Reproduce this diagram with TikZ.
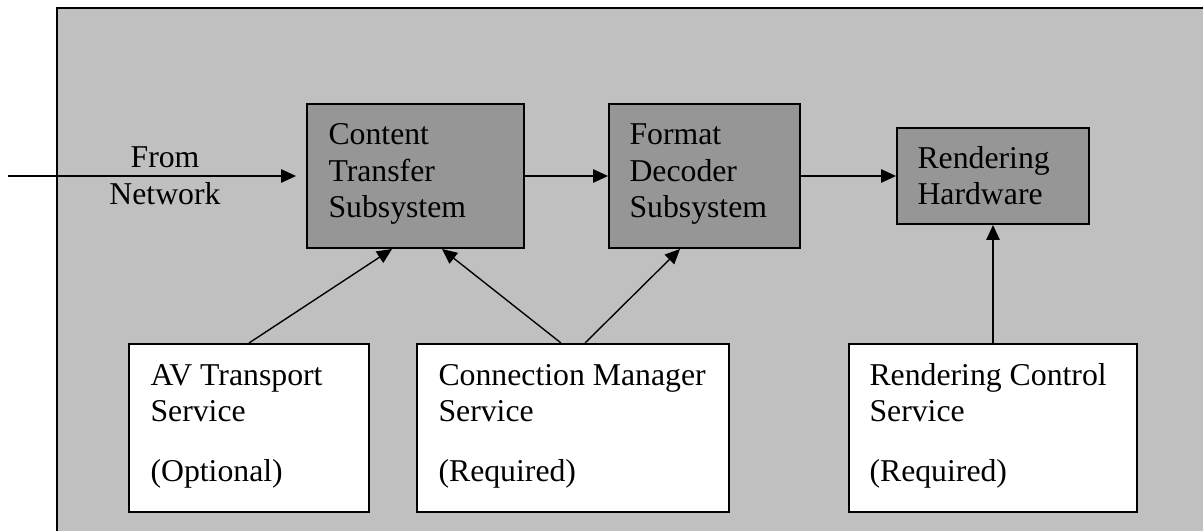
\documentclass[tikz,border=0pt]{standalone}
\usepackage{fontspec}
\setmainfont{Liberation Serif}
\usetikzlibrary{arrows.meta,calc}
\definecolor{bgcol}{RGB}{192,192,192}
\definecolor{darkbox}{RGB}{150,150,150}
\tikzset{
  dbox/.style={draw=black, line width=0.8pt, fill=darkbox, inner sep=0pt},
  wbox/.style={draw=black, line width=0.8pt, fill=white, inner sep=0pt},
  lbl/.style={font=\fontsize{12.7}{14.6}\selectfont, inner sep=0pt, align=left, anchor=base west},
  lblc/.style={font=\fontsize{12.7}{14.6}\selectfont, inner sep=0pt, anchor=base},
  conn/.style={line width=0.55pt, -{Triangle[length=6pt,width=5.4pt]}}
}
\begin{document}
\begin{tikzpicture}[x=0.4pt,y=-0.4pt]
\clip (0,0) rectangle (1203,531);
\useasboundingbox (0,0) rectangle (1203,531);
\draw[line width=0.8pt, fill=bgcol] (57,8) rectangle (1260,580);

% upper boxes
\node[dbox, minimum width=86.8pt, minimum height=57.6pt] (ct) at (415.5,176) {};
\node[dbox, minimum width=76.4pt, minimum height=57.6pt] (fd) at (704.5,176) {};
\node[dbox, minimum width=76.8pt, minimum height=38.4pt] (rh) at (993,176) {};

% lower boxes
\node[wbox, minimum width=96pt, minimum height=67.2pt] (av) at (249,428) {};
\node[wbox, minimum width=124.8pt, minimum height=67.2pt] (cm) at (573,428) {};
\node[wbox, minimum width=115.2pt, minimum height=67.2pt] (rc) at (993,428) {};

% texts (anchored at the baseline of the last line)
\node[lblc] (from) at (165,168) {From};
\node[lblc] (net) at (165,205) {Network};
\node[lbl] (ctt) at (328,218) {Content\\Transfer\\Subsystem};
\node[lbl] (fdt) at (629,218) {Format\\Decoder\\Subsystem};
\node[lbl] (rht) at (917,205) {Rendering\\Hardware};
\node[lbl] (avt) at (150,481) {AV Transport\\Service\\[9.2pt](Optional)};
\node[lbl] (cmt) at (438,481) {Connection Manager\\Service\\[9.2pt](Required)};
\node[lbl] (rct) at (869,481) {Rendering Control\\Service\\[9.2pt](Required)};

% connectors
\coordinate (netin) at (8,176);
\draw[conn, shorten >=4pt] (netin) -- (ct.west);
\draw[conn] (ct.east) -- (fd.west);
\draw[conn] (fd.east) -- (rh.west);
\draw[conn] (av.north) -- ($(ct.south)+(-23.5,0)$);
\draw[conn] ($(cm.north)+(-12,0)$) -- ($(ct.south)+(26.5,0)$);
\draw[conn] ($(cm.north)+(12,0)$) -- ($(fd.south)+(-24.5,0)$);
\draw[conn] (rc.north) -- (rh.south);
\end{tikzpicture}
\end{document}
